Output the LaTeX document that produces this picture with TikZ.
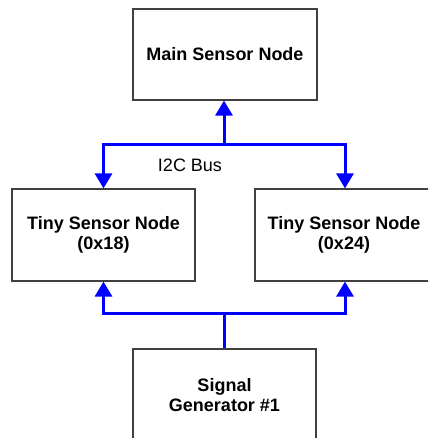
\documentclass[tikz,border=0pt]{standalone}
\usepackage{fontspec}
\setmainfont{Liberation Sans}
\usetikzlibrary{arrows.meta}
\tikzset{
  labelfont/.style={font=\fontsize{18}{20.5}\selectfont\bfseries, align=center},
  block/.style={draw=black!75, line width=1.2pt, fill=white, inner sep=0pt, labelfont},
  bus/.style={draw={rgb,255:red,0;green,0;blue,255}, line width=3pt},
  busarrow/.style={bus, -{Triangle[length=15pt,width=17pt]}},
}
\begin{document}
\begin{tikzpicture}[x=1pt,y=-1pt]
  \useasboundingbox (0,0) rectangle (428,438);
  \clip (0,0) rectangle (428,438);
  % boxes
  \node[block, minimum width=184pt, minimum height=91pt] (main) at (225,54.5) {Main Sensor Node};
  \node[block, minimum width=183pt, minimum height=92pt] (left) at (103.5,235) {Tiny Sensor Node\\(0x18)};
  \node[block, minimum width=180pt, minimum height=92pt] (right) at (345,235) {};
  \node[labelfont] (rightlabel) at (344,235) {Tiny Sensor Node\\(0x24)};
  \node[block, minimum width=183pt, minimum height=110pt] (sig) at (224.5,404) {};
  \node[labelfont] (siglabel) at (224.5,395) {Signal\\Generator \#1};
  % bus junctions
  \coordinate (topbus) at (224,145);
  \coordinate (botbus) at (224,313);
  % I2C bus
  \draw[busarrow] (topbus) -- (main.south -| topbus);
  \draw[busarrow] (topbus) -| (left.north);
  \draw[busarrow] (topbus) -| (right.north);
  \node[font=\fontsize{18}{20}\selectfont] (buslabel) at (190,165) {I2C Bus};
  % signal lines
  \draw[bus] (sig.north -| botbus) -- (botbus);
  \draw[busarrow] (botbus) -| (left.south);
  \draw[busarrow] (botbus) -| (right.south);
\end{tikzpicture}
\end{document}
